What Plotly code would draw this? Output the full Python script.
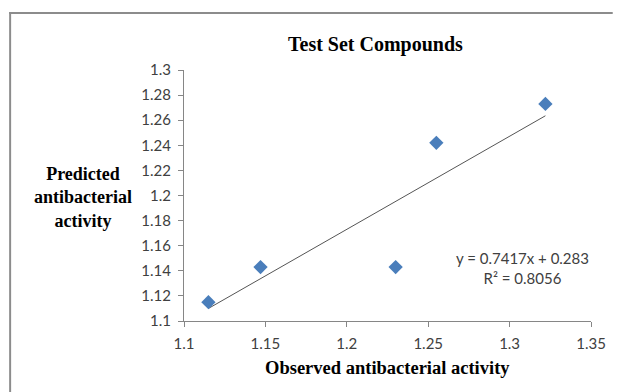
import plotly.graph_objects as go

# Observed vs predicted antibacterial activity for the test set
observed = [1.115, 1.147, 1.230, 1.255, 1.322]
predicted = [1.115, 1.143, 1.143, 1.242, 1.273]

# Linear trendline coefficients (as reported on the chart)
slope = 0.7417
intercept = 0.283
r_squared = 0.8056

x_tick_vals = [1.1, 1.15, 1.2, 1.25, 1.3, 1.35]
x_tick_text = ["1.1", "1.15", "1.2", "1.25", "1.3", "1.35"]
y_tick_vals = [1.1, 1.12, 1.14, 1.16, 1.18, 1.2, 1.22, 1.24, 1.26, 1.28, 1.3]
y_tick_text = ["1.1", "1.12", "1.14", "1.16", "1.18", "1.2", "1.22", "1.24", "1.26", "1.28", "1.3"]

W, H = 618, 392
L, R, T, B = 184, 22, 70, 71
plot_w = W - L - R
plot_h = H - T - B


def px_x(px):
    return (px - L) / plot_w


def px_y(py):
    return (H - B - py) / plot_h


trend_x = [min(observed), max(observed)]
trend_y = [slope * v + intercept for v in trend_x]

axis_grey = "#868686"
sans = "Lato, 'Open Sans', sans-serif"
tick_font = dict(family=sans, size=15, color="#404040")
serif_bold = "Liberation Serif, 'Times New Roman', serif"

fig = go.Figure()
fig.add_trace(go.Scatter(
    x=trend_x, y=trend_y, mode="lines",
    line=dict(color="#555555", width=1), hoverinfo="skip", showlegend=False,
))
fig.add_trace(go.Scatter(
    x=observed, y=predicted, mode="markers",
    marker=dict(symbol="diamond", size=11, color="#4A7EBB", line=dict(width=0)),
    showlegend=False,
))

frame_grey = "#8c8c8c"

fig.update_layout(
    width=W, height=H,
    margin=dict(l=L, r=R, t=T, b=B),
    paper_bgcolor="white", plot_bgcolor="white",
    xaxis=dict(
        range=[1.1, 1.35], tickvals=x_tick_vals, ticktext=x_tick_text,
        showgrid=False, zeroline=False, showline=True, linecolor=axis_grey, linewidth=1,
        ticks="outside", ticklen=5, tickcolor=axis_grey, tickfont=tick_font,
        ticklabelstandoff=4,
    ),
    yaxis=dict(
        range=[1.1, 1.3], tickvals=y_tick_vals, ticktext=y_tick_text,
        showgrid=False, zeroline=False, showline=True, linecolor=axis_grey, linewidth=1,
        ticks="outside", ticklen=5, tickcolor=axis_grey, tickfont=tick_font,
        ticklabelstandoff=4,
    ),
    shapes=[
        # chart-area frame: top and left edges as thin filled bands
        dict(type="rect", xref="paper", yref="paper",
             x0=px_x(7), x1=px_x(W), y0=px_y(14), y1=px_y(12),
             fillcolor=frame_grey, line=dict(width=0)),
        dict(type="rect", xref="paper", yref="paper",
             x0=px_x(7), x1=px_x(9), y0=px_y(H), y1=px_y(12),
             fillcolor=frame_grey, line=dict(width=0)),
    ],
    annotations=[
        dict(text="<b>Test Set Compounds</b>", xref="paper", yref="paper",
             x=px_x(378), y=px_y(44), showarrow=False, xanchor="center", yanchor="middle",
             font=dict(family=serif_bold, size=20, color="#000000")),
        dict(text="<b>Predicted<br>antibacterial<br>activity</b>", xref="paper", yref="paper",
             x=px_x(82), y=px_y(197), showarrow=False, xanchor="center", yanchor="middle",
             align="center", font=dict(family=serif_bold, size=18, color="#000000")),
        dict(text="<b>Observed antibacterial activity</b>", xref="paper", yref="paper",
             x=px_x(390), y=px_y(368), showarrow=False, xanchor="center", yanchor="middle",
             font=dict(family=serif_bold, size=18.5, color="#000000")),
        dict(text=f"y = {slope}x + {intercept}<br>R² = {r_squared}", xref="paper", yref="paper",
             x=px_x(527), y=px_y(268), showarrow=False, xanchor="center", yanchor="middle",
             align="center", font=dict(family=sans, size=15, color="#404040")),
    ],
)

fig.write_html("out.html", config={"displayModeBar": False})
